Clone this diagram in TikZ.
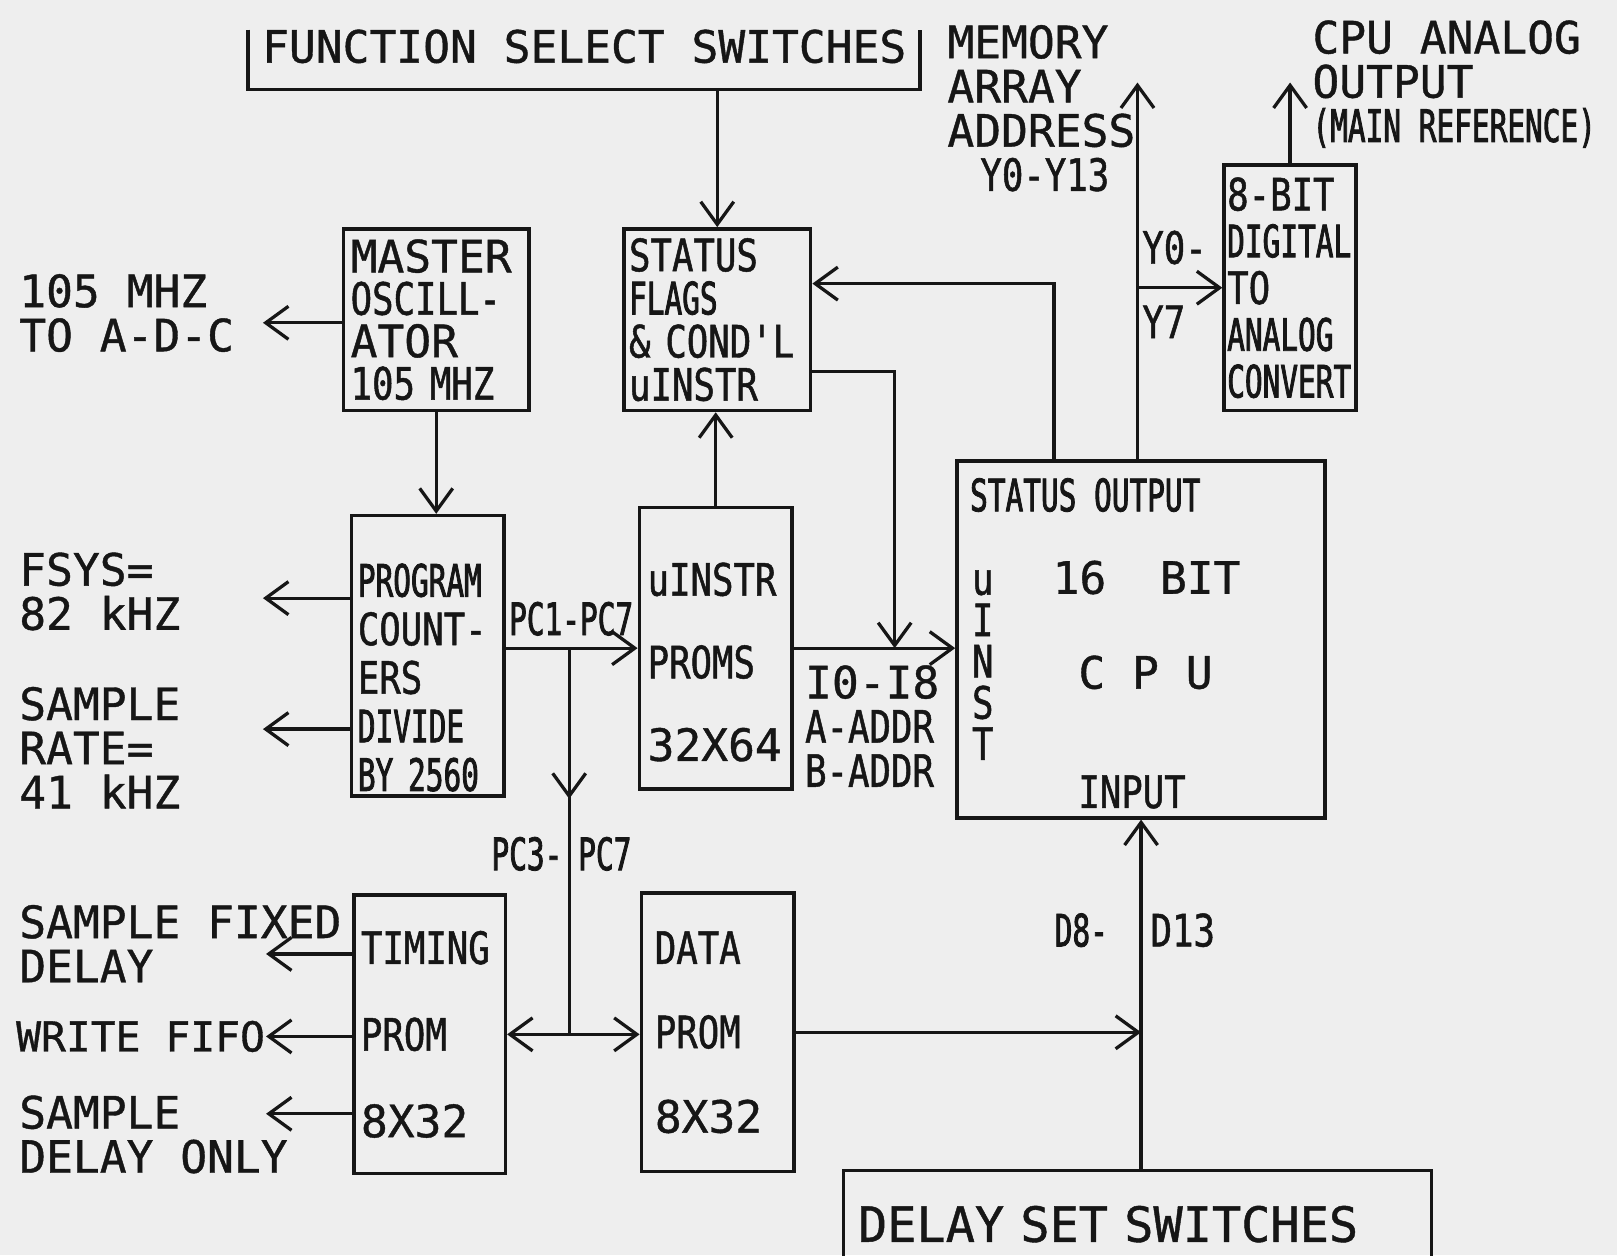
\documentclass[tikz,border=0pt]{standalone}
\usepackage{fontspec}
\usepackage{tikz}
\usetikzlibrary{
    arrows.meta,
    positioning,
    calc,
    decorations.markings
}
\newfontfamily\plotfont[FakeBold=0.9]{DejaVu Sans Mono}
\newfontfamily\plotmid[FakeStretch=0.8,FakeBold=1.1]{DejaVu Sans Mono}
\newfontfamily\plotthin[FakeStretch=0.66,FakeBold=1.8]{DejaVu Sans Mono}
\newcommand{\plotsz}[1]{\fontsize{12.3pt}{#1}\selectfont}
\hfuzz=20pt
\definecolor{PaperGray}{RGB}{238,238,238}
\definecolor{PenBlack}{RGB}{22,22,22}
\tikzset{
  blk/.style    = {draw=PenBlack, line width=1pt, align=left, inner ysep=0pt,
                   text=PenBlack},
  lbl/.style    = {inner sep=0pt, align=left, text=PenBlack,
                   font={\plotfont\plotsz{12.2pt}}},
  arr/.style    = {-{Straight Barb[length=2.2mm,width=3.2mm]}, line width=0.9pt, PenBlack},
  dblarr/.style = {{Straight Barb[length=2.2mm,width=3.2mm]}-{Straight Barb[length=2.2mm,width=3.2mm]},
                   line width=0.9pt, PenBlack},
  midarr/.style = {line width=0.9pt, PenBlack, postaction={decorate},
                   decoration={markings, mark=at position 0.39 with
                   {\arrow{Straight Barb[length=2.2mm,width=3.2mm]}}}}
}

\begin{document}
\begin{tikzpicture}
\useasboundingbox (0,0) rectangle (15.68,-12.17);
\fill[PaperGray] (0,0) rectangle (15.68,-12.17);
\clip (0,0) rectangle (15.68,-12.17);

% Switch banks
\node[blk, draw=none, minimum width=6.43cm, minimum height=0.80cm,
      font={\plotfont\plotsz{14pt}}] (fss) at (5.665,-0.45) {FUNCTION SELECT SWITCHES};
\draw[line width=1pt, PenBlack] ([yshift=0.58cm]fss.south west) -- (fss.south west)
      -- (fss.south east) -- ([yshift=0.58cm]fss.south east);
\node[blk, minimum width=5.70cm, minimum height=1.04cm, inner xsep=0.14cm, text width=5.42cm,
      font={\plotfont\fontsize{13.4pt}{15pt}\selectfont}] (dss) at (11.03,-11.87) {DELAY\ SET\ SWITCHES};

% Clock, counters, timing
\node[blk, minimum width=1.80cm, minimum height=1.76cm, inner xsep=0.07cm, text width=1.66cm,
      font={\plotfont\plotsz{11.7pt}}] (master) at (4.23,-3.10)
      {MASTER\\{\plotmid OSCILL-}\\ATOR\\{\plotmid 105~MHZ}};
\node[blk, minimum width=1.48cm, minimum height=2.72cm, inner xsep=0.06cm, text width=1.36cm,
      font={\plotfont\plotsz{13.4pt}}] (pcount) at (4.15,-6.36)
      {\rule{0pt}{0.74cm}{\plotthin PROGRAM}\\{\plotmid COUNT-}\\{\plotmid ERS}\\{\plotthin DIVIDE}\\{\plotthin BY~2560}};
\node[blk, minimum width=1.47cm, minimum height=2.70cm, inner xsep=0.07cm, text width=1.33cm,
      font={\plotfont\plotsz{23.9pt}}] (timing) at (4.165,-10.03)
      {{\plotmid TIMING}\\{\plotmid PROM}\\8X32};

% Microcode
\node[blk, minimum width=1.81cm, minimum height=1.76cm, inner xsep=0.05cm, text width=1.71cm,
      font={\plotfont\plotsz{11.9pt}}] (flags) at (6.955,-3.10)
      {{\plotmid STATUS}\\{\plotthin FLAGS}\\{\plotmid \&~COND'L}\\{\plotmid uINSTR}};
\node[blk, minimum width=1.48cm, minimum height=2.73cm, inner xsep=0.08cm, text width=1.32cm,
      font={\plotfont\plotsz{22.8pt}}] (uprom) at (6.94,-6.285)
      {\rule{0pt}{0.59cm}{\plotmid uINSTR}\\{\plotmid PROMS}\\32X64};
\node[blk, minimum width=1.48cm, minimum height=2.70cm, inner xsep=0.13cm, text width=1.22cm,
      font={\plotfont\plotsz{23.3pt}}] (dprom) at (6.96,-10.01)
      {{\plotmid DATA}\\{\plotmid PROM}\\8X32};

% CPU and DAC
\node[blk, minimum width=3.57cm, minimum height=3.46cm] (cpu) at (11.065,-6.20) {};
\node[lbl, font={\plotthin\plotsz{12pt}}, anchor=west] (cpuStat) at (9.40,-4.80) {STATUS OUTPUT};
\node[lbl, anchor=west] (cpuBits) at (10.20,-5.60) {16\ \ BIT};
\node[lbl, anchor=west] (cpuName) at (10.45,-6.52) {C\ P\ U};
\node[lbl, font={\plotmid\plotsz{12pt}}, anchor=west] (cpuIn) at (10.45,-7.68) {INPUT};
\node[lbl, align=center, font={\plotmid\plotsz{11.4pt}}] (cpuInst) at (9.53,-6.45) {u\\I\\N\\S\\T};
\node[blk, minimum width=1.28cm, minimum height=2.38cm, inner xsep=0.03cm, text width=1.22cm,
      font={\plotfont\plotsz{12.9pt}}] (dac) at (12.51,-2.79)
      {{\plotmid 8-BIT}\\{\plotthin DIGITAL}\\{\plotmid TO}\\{\plotthin ANALOG}\\{\plotthin CONVERT}};

% Outside signals
\node[lbl, anchor=west] (adc) at (0.18,-3.035) {105 MHZ\\TO A-D-C};
\node[lbl, anchor=west] (fsys) at (0.18,-5.735) {FSYS=\\82 kHZ};
\node[lbl, anchor=west] (srate) at (0.18,-7.25) {SAMPLE\\RATE=\\41 kHZ};
\node[lbl, anchor=west] (sfix) at (0.18,-9.15) {SAMPLE FIXED\\DELAY};
\node[lbl, anchor=west, font={\plotfont\fontsize{11.4pt}{12pt}\selectfont}] (wfifo) at (0.15,-10.05) {WRITE FIFO};
\node[lbl, anchor=west] (sonly) at (0.18,-11.0) {SAMPLE\\DELAY ONLY};
\node[lbl, anchor=west] (mem) at (9.18,-1.05) {MEMORY\\ARRAY\\ADDRESS\\\hspace*{0.32cm}{\plotmid Y0-Y13}};
\node[lbl, anchor=west] (anout) at (12.72,-0.815) {CPU ANALOG\\OUTPUT\\{\plotthin (MAIN REFERENCE)}};

% Bus labels
\node[lbl, font={\plotthin\plotsz{12pt}}, anchor=west] (pcHi) at (4.93,-6.0) {PC1-PC7};
\node[lbl, font={\plotthin\plotsz{12pt}}, anchor=east] (pcLoA) at (5.46,-8.28) {PC3-};
\node[lbl, font={\plotthin\plotsz{12pt}}, anchor=west] (pcLoB) at (5.60,-8.28) {PC7};
\node[lbl, anchor=west] (iaddr) at (7.80,-7.04) {I0-I8\\{\plotmid A-ADDR}\\{\plotmid B-ADDR}};
\node[lbl, font={\plotmid\plotsz{12pt}}, anchor=west] (yLo) at (11.07,-2.40) {Y0-};
\node[lbl, font={\plotmid\plotsz{12pt}}, anchor=west] (yHi) at (11.07,-3.12) {Y7};
\node[lbl, font={\plotthin\plotsz{12pt}}, anchor=east] (dLo) at (10.75,-9.02) {D8-};
\node[lbl, font={\plotmid\plotsz{12pt}}, anchor=west] (dHi) at (11.15,-9.02) {D13};

% Arrow ends
\coordinate (adcTip) at (2.55,-3.13);
\coordinate (fsysTip) at (2.55,-5.80);
\coordinate (srateTip) at (2.55,-7.07);
\coordinate (sfixTip) at (2.58,-9.25);
\coordinate (wfifoTip) at (2.58,-10.05);
\coordinate (sonlyTip) at (2.58,-10.80);
\coordinate (memTip) at (11.03,-0.80);
\coordinate (dacTip) at (12.51,-0.80);
\coordinate (pcTap) at ($(uprom.west -| pcount.east)!0.48!(uprom.west)$);
\coordinate (pcJoin) at (pcTap |- timing.east);
\coordinate (flagTap) at ($(uprom.east)!0.625!(uprom.east -| cpu.west)$);

% Connections
\draw[arr] (flags.north |- fss.south) -- (flags.north);
\draw[arr] (master.west |- adcTip) -- (adcTip);
\draw[arr] (master.south) -- (master.south |- pcount.north);
\draw[arr] (pcount.west |- fsysTip) -- (fsysTip);
\draw[arr] (pcount.west |- srateTip) -- (srateTip);
\draw[arr] (uprom.west -| pcount.east) -- (uprom.west);
\draw[arr] (uprom.north) -- (uprom.north |- flags.south);
\draw[midarr] (pcTap) -- (pcJoin);
\draw[dblarr] (timing.east) -- (timing.east -| dprom.west);
\draw[arr] (timing.west |- sfixTip) -- (sfixTip);
\draw[arr] (timing.west |- wfifoTip) -- (wfifoTip);
\draw[arr] (timing.west |- sonlyTip) -- (sonlyTip);
\draw[arr] (uprom.east) -- (uprom.east -| cpu.west);
\draw[arr] ([yshift=-0.5cm]flags.east) -| (flagTap);
\draw[arr] ([xshift=-0.845cm]cpu.north) |- ([yshift=0.35cm]flags.east);
\draw[arr] (cpu.north -| memTip) -- (memTip);
\draw[arr] (dac.west -| memTip) -- (dac.west);
\draw[arr] (dac.north) -- (dacTip);
\draw[arr] (dprom.east) -- (dprom.east -| cpu.south);
\draw[arr] (cpu.south |- dss.north) -- (cpu.south);
\end{tikzpicture}
\end{document}
